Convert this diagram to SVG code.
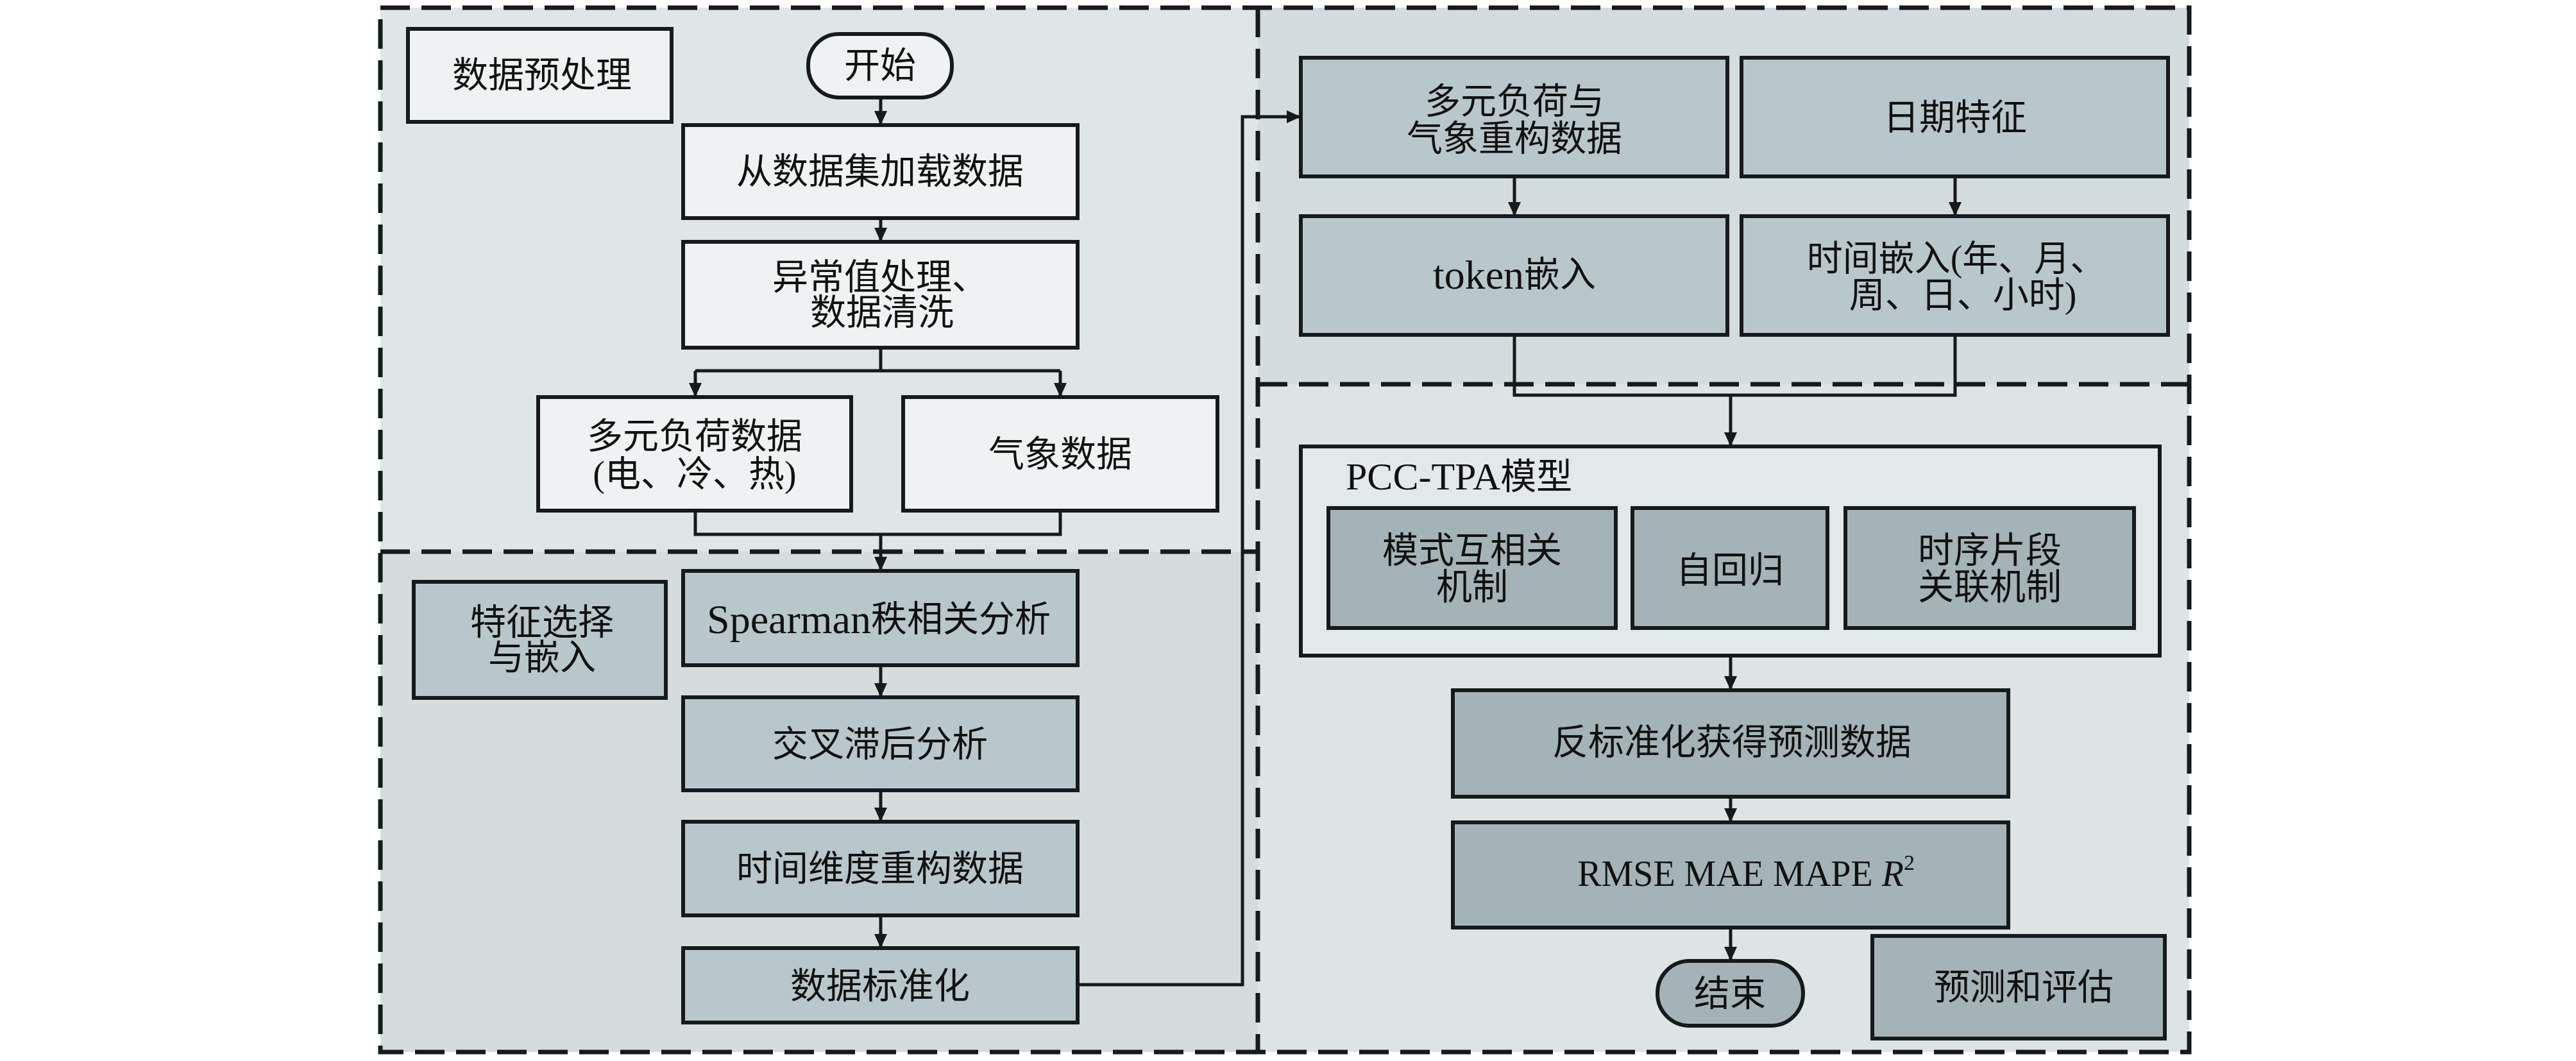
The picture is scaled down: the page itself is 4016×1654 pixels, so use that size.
<svg xmlns="http://www.w3.org/2000/svg" width="4016" height="1654" viewBox="0 0 4016 1654">
<defs>
<style>
.bx{stroke:#161a1b;stroke-width:6}
.l1{fill:#eef2f2}
.l2{fill:#b8c7cb}
.l3{fill:#a3b3b7}
.ct{fill:#e2e9ea}
.t{font-family:"Liberation Serif","Noto Sans CJK SC",serif;font-size:56px;fill:#111;text-anchor:middle;dominant-baseline:central}
.lat{font-size:64px}
.c{fill:none;stroke:#161a1b;stroke-width:5}
.d{fill:none;stroke:#161a1b;stroke-width:7;stroke-dasharray:46 18}
</style>
<marker id="ah" markerUnits="userSpaceOnUse" markerWidth="24" markerHeight="22" refX="22" refY="10" orient="auto">
<path d="M0,0 L22,10 L0,20 Z" fill="#161a1b"/>
</marker>
</defs>
<rect width="4016" height="1654" fill="#ffffff"/>
<g id="regions">
<rect x="593" y="12" width="1368" height="848" fill="#dfe6e8"/>
<rect x="593" y="860" width="1368" height="780" fill="#d4dcde"/>
<rect x="1961" y="12" width="1452" height="587" fill="#d3dcde"/>
<rect x="1961" y="599" width="1452" height="1041" fill="#dce4e6"/>
<rect class="d" x="593" y="12" width="2820" height="1628"/>
<line class="d" x1="1961" y1="12" x2="1961" y2="1640"/>
<line class="d" x1="593" y1="860" x2="1961" y2="860"/>
<line class="d" x1="1961" y1="599" x2="3413" y2="599"/>
</g>
<g id="connectors">
<line class="c" x1="1373" y1="152" x2="1373" y2="195" marker-end="url(#ah)"/>
<line class="c" x1="1373" y1="340" x2="1373" y2="377" marker-end="url(#ah)"/>
<polyline class="c" points="1373,542 1373,578"/>
<polyline class="c" points="1084,578 1653,578"/>
<line class="c" x1="1084" y1="578" x2="1084" y2="619" marker-end="url(#ah)"/>
<line class="c" x1="1653" y1="578" x2="1653" y2="619" marker-end="url(#ah)"/>
<polyline class="c" points="1084,796 1084,833 1653,833 1653,796"/>
<line class="c" x1="1373" y1="833" x2="1373" y2="890" marker-end="url(#ah)"/>
<line class="c" x1="1373" y1="1037" x2="1373" y2="1087" marker-end="url(#ah)"/>
<line class="c" x1="1373" y1="1232" x2="1373" y2="1281" marker-end="url(#ah)"/>
<line class="c" x1="1373" y1="1427" x2="1373" y2="1478" marker-end="url(#ah)"/>
<polyline class="c" points="1680,1535 1937,1535 1937,182 2028,182" marker-end="url(#ah)"/>
<line class="c" x1="2361" y1="275" x2="2361" y2="337" marker-end="url(#ah)"/>
<line class="c" x1="3048" y1="275" x2="3048" y2="337" marker-end="url(#ah)"/>
<polyline class="c" points="2361,522 2361,616 3048,616 3048,522"/>
<line class="c" x1="2698" y1="616" x2="2698" y2="696" marker-end="url(#ah)"/>
<line class="c" x1="2698" y1="1022" x2="2698" y2="1076" marker-end="url(#ah)"/>
<line class="c" x1="2698" y1="1242" x2="2698" y2="1282" marker-end="url(#ah)"/>
<line class="c" x1="2698" y1="1446" x2="2698" y2="1498" marker-end="url(#ah)"/>
</g>
<g id="n-preprocess-label">
<rect class="bx l1" x="636" y="45" width="411" height="145"/>
<text class="t" x="845" y="117">数据预处理</text>
</g>
<g id="n-start">
<rect class="bx l1" x="1260" y="53" width="224" height="99" rx="48" ry="48"/>
<text class="t" x="1372" y="102">开始</text>
</g>
<g id="n-load">
<rect class="bx l1" x="1065" y="195" width="615" height="145"/>
<text class="t" x="1372" y="267">从数据集加载数据</text>
</g>
<g id="n-clean">
<rect class="bx l1" x="1065" y="377" width="615" height="165"/>
<text class="t" x="1372" y="432">异常值处理、</text>
<text class="t" x="1375" y="487">数据清洗</text>
</g>
<g id="n-load-data">
<rect class="bx l1" x="839" y="619" width="488" height="177"/>
<text class="t" x="1083" y="680">多元负荷数据</text>
<text class="t" x="1083" y="739">(电、冷、热)</text>
</g>
<g id="n-weather">
<rect class="bx l1" x="1408" y="619" width="490" height="177"/>
<text class="t" x="1653" y="708">气象数据</text>
</g>
<g id="n-feature-label">
<rect class="bx l2" x="645" y="907" width="393" height="181"/>
<text class="t" x="845" y="970">特征选择</text>
<text class="t" x="845" y="1025">与嵌入</text>
</g>
<g id="n-spearman">
<rect class="bx l2" x="1065" y="890" width="615" height="147"/>
<text class="t" x="1370" y="965"><tspan class="lat">Spearman</tspan>秩相关分析</text>
</g>
<g id="n-crosslag">
<rect class="bx l2" x="1065" y="1087" width="615" height="145"/>
<text class="t" x="1372" y="1160">交叉滞后分析</text>
</g>
<g id="n-reconstruct">
<rect class="bx l2" x="1065" y="1281" width="615" height="146"/>
<text class="t" x="1372" y="1354">时间维度重构数据</text>
</g>
<g id="n-normalize">
<rect class="bx l2" x="1065" y="1478" width="615" height="116"/>
<text class="t" x="1372" y="1537">数据标准化</text>
</g>
<g id="n-multi">
<rect class="bx l2" x="2028" y="90" width="665" height="185"/>
<text class="t" x="2361" y="158">多元负荷与</text>
<text class="t" x="2361" y="216">气象重构数据</text>
</g>
<g id="n-date">
<rect class="bx l2" x="2715" y="90" width="665" height="185"/>
<text class="t" x="3048" y="183">日期特征</text>
</g>
<g id="n-token">
<rect class="bx l2" x="2028" y="337" width="665" height="185"/>
<text class="t" x="2361" y="428"><tspan class="lat">token</tspan>嵌入</text>
</g>
<g id="n-time-embed">
<rect class="bx l2" x="2715" y="337" width="665" height="185"/>
<text class="t" x="3050" y="403">时间嵌入(年、月、</text>
<text class="t" x="3060" y="460">周、日、小时)</text>
</g>
<g id="n-pcc">
<rect class="bx ct" x="2028" y="696" width="1339" height="326"/>
<text class="t" x="2098" y="743" style="text-anchor:start"><tspan font-size="60">PCC-TPA</tspan>模型</text>
</g>
<g id="n-cross">
<rect class="bx l3" x="2071" y="792" width="448" height="187"/>
<text class="t" x="2295" y="858">模式互相关</text>
<text class="t" x="2295" y="915">机制</text>
</g>
<g id="n-ar">
<rect class="bx l3" x="2545" y="792" width="304" height="187"/>
<text class="t" x="2697" y="889">自回归</text>
</g>
<g id="n-seg">
<rect class="bx l3" x="2877" y="792" width="450" height="187"/>
<text class="t" x="3102" y="858">时序片段</text>
<text class="t" x="3102" y="915">关联机制</text>
</g>
<g id="n-denorm">
<rect class="bx l3" x="2265" y="1076" width="866" height="166"/>
<text class="t" x="2700" y="1157">反标准化获得预测数据</text>
</g>
<g id="n-metrics">
<rect class="bx l3" x="2265" y="1282" width="866" height="164"/>
<text class="t" x="2722" y="1362" font-size="58">RMSE MAE MAPE <tspan font-style="italic">R</tspan><tspan font-size="34" dy="-18">2</tspan></text>
</g>
<g id="n-end">
<rect class="bx l3" x="2584" y="1498" width="227" height="101" rx="50" ry="50"/>
<text class="t" x="2697" y="1549">结束</text>
</g>
<g id="n-eval-label">
<rect class="bx l3" x="2919" y="1459" width="456" height="160"/>
<text class="t" x="3155" y="1539">预测和评估</text>
</g>
</svg>
